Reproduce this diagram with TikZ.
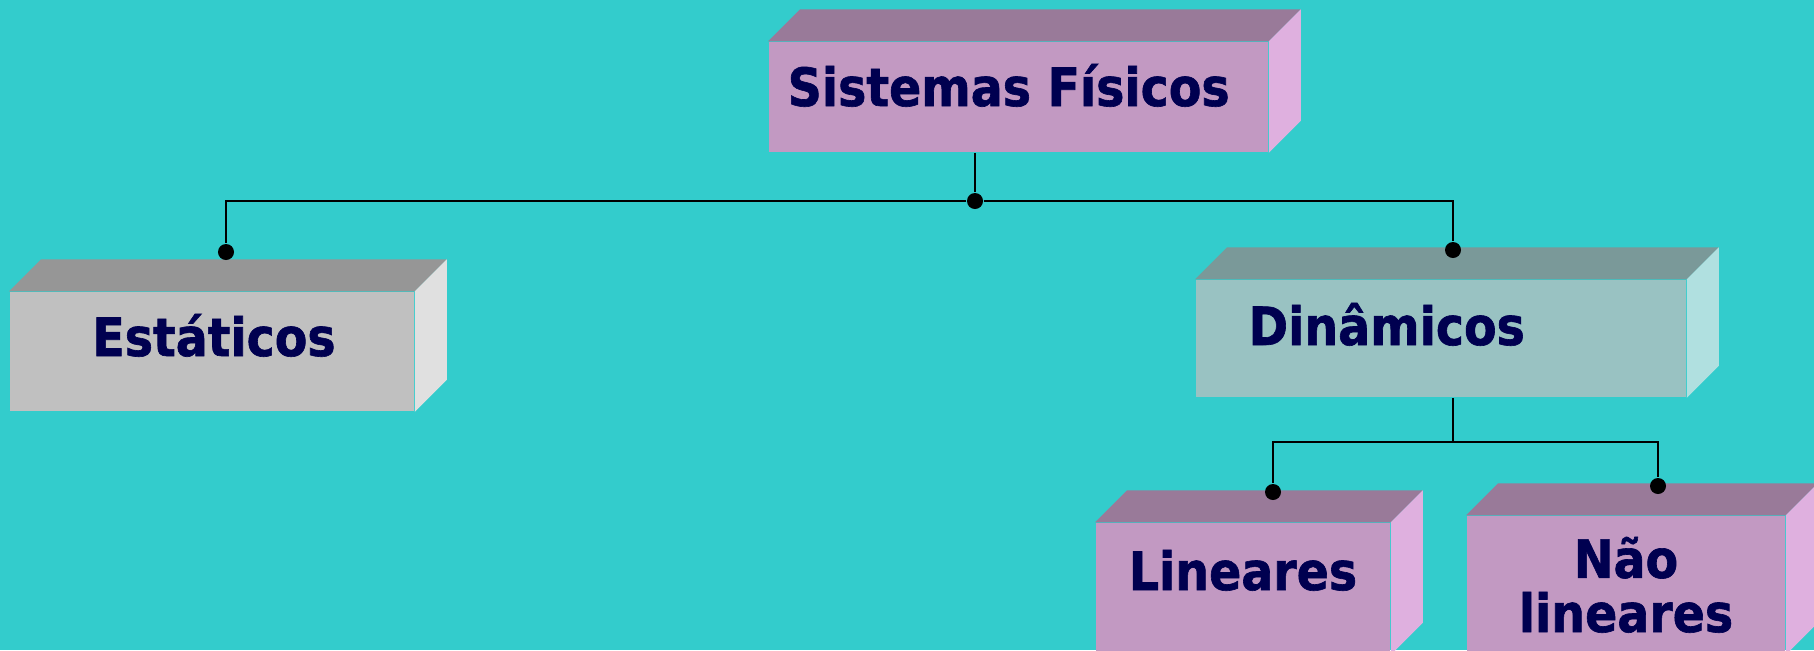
\documentclass[tikz,border=0pt]{standalone}
\usepackage{fontspec}
\newfontfamily\boxfont{DejaVu Sans Condensed}[FakeBold=1.2]
\usetikzlibrary{positioning}

\definecolor{bg}{HTML}{33CCCC}
\definecolor{ink}{HTML}{000050}
\definecolor{lilacfront}{HTML}{C299C2}
\definecolor{lilactop}{HTML}{997A99}
\definecolor{lilacside}{HTML}{DFB0DF}
\definecolor{greyfront}{HTML}{C0C0C0}
\definecolor{greytop}{HTML}{969696}
\definecolor{greyside}{HTML}{E0E0E0}
\definecolor{tealfront}{HTML}{99C2C2}
\definecolor{tealtop}{HTML}{7A9999}
\definecolor{tealside}{HTML}{B0E0E0}

% top and side faces of a box: node, top colour, side colour
\newcommand\slab[3]{%
  \fill[#2] (#1.north west) -- ([shift={(32,-32)}]#1.north west)
    -- ([shift={(32,-32)}]#1.north east) -- (#1.north east) -- cycle;
  \fill[#3] (#1.north east) -- ([shift={(32,-32)}]#1.north east)
    -- ([shift={(32,-32)}]#1.south east) -- (#1.south east) -- cycle;
}

\tikzset{
  box/.style={rectangle, inner sep=0pt},
  knob/.style={circle, fill=black, inner sep=0pt, minimum size=0.16cm},
  link/.style={line width=0.8pt},
  txt/.style={text=ink, font=\boxfont\bfseries\fontsize{15}{15.4}\selectfont,
    inner sep=0pt, align=center}
}

\begin{document}
\begin{tikzpicture}[x=0.01cm, y=-0.01cm]
    \useasboundingbox (0,0) rectangle (1814,650);
    \fill[bg] (0,0) rectangle (1814,650);

    % boxes
    \node[box, fill=lilacfront, minimum width=4.99cm, minimum height=1.10cm] (sis) at (1018.5,97) {};
    \node[box, fill=greyfront, minimum width=4.04cm, minimum height=1.19cm] (est) at (212,351.5) {};
    \node[box, fill=tealfront, minimum width=4.90cm, minimum height=1.17cm] (din) at (1441,338.5) {};
    \node[box, fill=lilacfront, minimum width=2.94cm, minimum height=1.31cm] (lin) at (1243,588.5) {};
    \node[box, fill=lilacfront, minimum width=3.18cm, minimum height=1.38cm] (nao) at (1626,585) {};
    \slab{sis}{lilactop}{lilacside}
    \slab{est}{greytop}{greyside}
    \slab{din}{tealtop}{tealside}
    \slab{lin}{lilactop}{lilacside}
    \slab{nao}{lilactop}{lilacside}

    \node[txt, anchor=base west] (sist) at (787,106) {Sistemas Físicos};
    \node[txt, anchor=base] (estt) at (214,356) {Estáticos};
    \node[txt, anchor=base west] (dint) at (1248,345) {Dinâmicos};
    \node[txt, anchor=base] (lint) at (1243,590) {Lineares};
    \node[txt, anchor=base] (naot) at (1626,632) {Não\\lineares};

    % connectors
    \node[knob] (hub) at (975,201) {};
    \node[knob] (estdot) at (226,252) {};
    \node[knob] (dindot) at (1453,250) {};
    \node[knob] (lindot) at (1273,492) {};
    \node[knob] (naodot) at (1658,486) {};
    \coordinate (split) at (1453,442);

    \draw[link] (hub |- sis.south) -- (hub);
    \draw[link] (hub) -| (estdot);
    \draw[link] (hub) -| (dindot);
    \draw[link] (split |- din.south) -- (split) -| (lindot);
    \draw[link] (split) -| (naodot);
\end{tikzpicture}
\end{document}
